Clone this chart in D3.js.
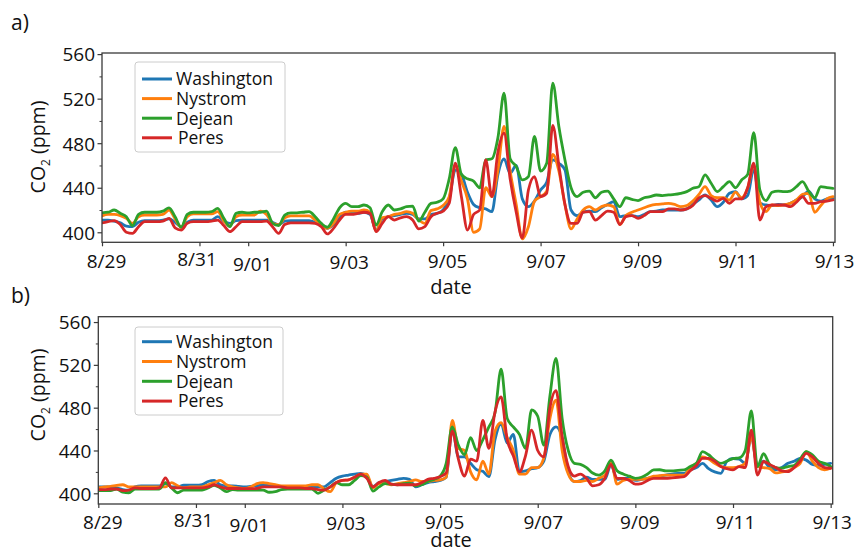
<!DOCTYPE html>
<html>
<head>
<meta charset="utf-8">
<script src="https://cdn.jsdelivr.net/npm/d3@7"></script>
<style>
  html, body { margin: 0; padding: 0; background: #fff; }
  svg { display: block; font-family: "Open Sans", "DejaVu Sans", sans-serif; }
</style>
</head>
<body>
<svg id="chart" width="858" height="557"></svg>
<script>
// ---------------- data ----------------
const seriesNames = ["Washington", "Nystrom", "Dejean", "Peres"];
const seriesColors = ["#1f77b4", "#ff7f0e", "#2ca02c", "#d62728"];
const startDate = "2019-08-29T00:00:00";
const stepHours = 3; // sampling interval of the values below
const tickLabels = ["8/29", "8/31", "9/01", "9/03", "9/05", "9/07", "9/09", "9/11", "9/13"];
const yTicksMajor = [400, 440, 480, 520, 560];
const yTicksMinor = [420, 460, 500, 540];

// panel a)
const washingtonA = [
  411, 411, 410, 408.5, 405.5, 405, 409, 410.5, 410.5, 410.5,
  411, 412, 409, 405, 409, 411, 411, 411, 411, 414,
  410, 408, 410.5, 411, 411, 411, 411, 411, 409, 407,
  410, 410.5, 410.5, 410.5, 410.5, 409, 406, 403.6, 407, 413,
  418, 417, 417, 418, 416, 402, 412, 414, 415, 416,
  417, 416, 412, 412, 416, 417, 420, 430, 456, 452,
  436, 425, 422, 421, 418.5, 452, 466, 453, 460, 430,
  423, 428, 438, 445, 465, 462, 456, 420, 415, 418,
  419, 418.5, 422, 425, 427.5, 414, 415, 415, 414, 416,
  418.5, 419, 420, 420, 420, 420, 421, 425, 429, 433.5,
  429, 423, 427, 435, 436.5, 430, 433, 457, 426, 424.5,
  424, 425, 424.5, 426, 429, 432, 437, 430, 428, 430, 430.5
];
const nystromA = [
  414.7, 416, 416, 415, 412.5, 408, 414, 415.5, 415.5, 415.5,
  416, 420, 412, 404.5, 414, 416.5, 416.5, 416.5, 416.5, 418.6,
  410, 405.7, 414, 415.5, 415.5, 415.5, 419, 416, 408, 406.6,
  413, 414.7, 414.7, 414.7, 414.7, 411, 406, 403.6, 408, 416,
  418, 419, 419, 420, 418, 401, 413, 414, 416, 417,
  418.5, 417, 411, 408, 419.5, 421, 424, 432, 460, 446,
  430, 400, 403, 440, 432, 456, 495, 455, 425, 394,
  405, 428, 432, 437, 470, 455, 425, 403, 412, 420,
  423, 420, 423, 424.5, 423, 407, 415, 418, 420, 422,
  424, 425, 425.5, 426, 425, 423, 424, 428, 434, 441,
  433, 431, 431, 429, 436, 431, 440, 460, 427, 418.5,
  424.5, 424, 424.5, 426, 429, 434, 435, 418, 424, 430, 432
];
const dejeanA = [
  417.5, 418, 420, 417, 414, 406, 416, 418, 418, 418,
  419, 422, 414, 404.5, 416, 418, 418, 418, 418.5, 421.5,
  412.5, 405, 417, 418, 417.5, 418, 418, 419, 408, 406,
  415.5, 417.5, 417.5, 418, 418.5, 414, 408, 404.5, 412, 422,
  426, 423, 423, 424.5, 422, 406.5, 418.5, 424.5, 420, 421,
  423, 423.5, 410, 418, 426, 427, 430, 448, 476, 452,
  448, 446, 440, 465, 466, 485, 525, 466, 459, 447,
  450, 486, 455, 462, 534, 495, 465, 440, 432, 436,
  437, 431, 436, 437, 430, 423, 431, 429.5, 428.5, 431,
  432, 433.5, 433, 433.5, 434, 435, 436.5, 439.5, 441, 451.5,
  444, 436.5, 441, 445.5, 440, 447, 452, 489.5, 438, 428.5,
  436, 437, 436.5, 437, 441, 445.5, 437, 431, 441, 440, 439.5
];
const peresA = [
  408.5, 409.5, 410.5, 407, 400, 399, 405, 409.5, 409.5, 409.5,
  410, 412.5, 404, 402, 408, 409.5, 409.5, 409.5, 410, 411,
  406, 400.5, 405, 409.5, 409.5, 409.5, 409.5, 410, 405, 399,
  407, 408.5, 408.5, 408.5, 408.5, 408, 405, 398.5, 403.5, 411,
  416, 416, 417, 418, 417, 400.5, 408, 414, 411, 413,
  414, 411, 403, 405, 414, 417, 419, 426, 462, 432,
  402, 416, 420, 465, 432, 472, 489, 448, 418, 395,
  438, 450, 432, 435, 496, 460, 425, 408, 408, 418,
  418.5, 411, 415, 419, 418, 407, 414, 415, 412.5, 415,
  418.5, 418.5, 418.5, 421, 421, 420, 421, 424, 431, 433,
  430.5, 428, 430.5, 426, 430, 430, 440, 462, 411, 423,
  424.5, 424.5, 424.5, 423, 427, 432, 426, 426, 427.5, 428, 429
];

// panel b)
const washingtonB = [
  406, 406, 406, 405, 403.5, 403, 406, 407, 407, 407,
  407, 409, 406, 406, 407.5, 407.5, 407.5, 408, 411, 412,
  408, 407, 407, 406.5, 406, 406.5, 407, 408, 408, 407,
  406.5, 406.5, 406.5, 406.5, 406.5, 406.5, 406, 406, 410, 414,
  416, 417, 418, 418.7, 416, 406.3, 410, 411, 412, 413,
  414, 413, 406, 408, 410, 411, 412, 415, 460, 434,
  434, 428, 422, 420.5, 415.6, 450, 465, 447, 455, 420,
  421, 423, 424, 430, 455, 462, 452, 420, 411, 412,
  415, 413, 413, 413, 426.5, 413, 414, 414, 412, 413,
  414, 415, 416, 417, 418, 418.5, 418.7, 422, 424, 428,
  423, 420, 418.7, 430, 432.5, 432, 428, 452.7, 425, 430,
  424, 422, 424, 428, 430, 432.5, 431, 427, 426, 427, 428
];
const nystromB = [
  405, 406, 406.5, 407.5, 408, 406, 406, 406, 406, 406,
  406, 406, 410, 407, 405, 406, 406, 406, 408, 410,
  412, 408, 406, 405, 404.5, 406, 409, 410, 409, 408,
  407, 407, 407, 407, 407, 408, 408, 404, 401.5, 410,
  412, 412.5, 415, 418, 418, 405, 409, 409, 408, 409,
  410, 411, 412.5, 411, 411, 412, 412.5, 415, 468, 442,
  440, 420, 412.5, 430, 418, 458, 466, 452, 440, 418,
  418, 424, 424, 433, 470, 487, 440, 418, 411, 411,
  412, 411, 414, 417, 429.7, 408.5, 412, 413, 413, 413,
  414, 416, 416.5, 417, 417, 417, 417, 424, 428, 434,
  432, 428, 425, 424, 424, 425, 428, 452.7, 425, 424,
  423, 419, 420, 421, 424, 428, 439, 430, 424, 422, 423.4
];
const dejeanB = [
  402.5, 402.5, 402.5, 404, 401, 400.5, 404, 404, 404, 404,
  404, 410, 405, 400.5, 403, 403, 403, 403, 405, 407.5,
  405, 401.5, 403.5, 403, 403, 403, 403, 403, 401, 401.5,
  403.5, 404, 404, 404, 404, 404, 400, 403, 406, 410,
  408, 408, 412, 416.5, 415, 402, 406, 409, 408.5, 408,
  409, 409.5, 407, 408, 411, 413, 416, 428, 462, 445,
  436, 452, 440, 450, 462, 475, 516, 470, 462, 455,
  442, 478, 472, 445, 491, 526, 470, 440, 428, 427,
  424, 419, 417, 421, 431, 421, 418, 416, 414, 415,
  418, 421.8, 422, 421, 421, 421.5, 421.8, 425, 428, 439,
  436, 431, 428, 430, 432.5, 433, 440, 477, 425, 437,
  427, 424, 423.5, 425, 426, 432, 439, 436, 430, 428, 425
];
const peresB = [
  403.5, 403.5, 404, 404, 402.5, 403, 405, 404.5, 404.5, 404.5,
  405, 414.5, 405, 405, 405, 405, 405, 405, 406, 408,
  406, 404.5, 404.5, 404.5, 404.3, 404.3, 404.5, 406, 406, 406,
  406, 405, 405, 405, 404.5, 404.5, 403.5, 403, 406, 410,
  412, 412.5, 415, 418, 414, 406, 410, 412, 408.5, 408,
  408, 408, 408, 410, 413, 414, 415.5, 419, 458, 432,
  416, 432, 430, 468, 442, 476, 490, 450, 435, 420,
  435, 459, 440, 434, 480, 496, 453, 425, 416, 418,
  414, 407, 408, 414, 427, 414, 414, 412, 408.5, 409,
  412, 414, 414, 414, 414.5, 415, 415.5, 421, 426, 432.7,
  432.7, 430, 425, 423, 421.8, 425, 424, 459, 417, 429.7,
  427, 424, 421, 420.3, 424, 430, 437.3, 434, 428, 424, 423.4
];

// ---------------- drawing ----------------
const svg = d3.select("#chart");
const parse = d3.timeParse("%Y-%m-%dT%H:%M:%S");
const t0 = parse(startDate);
const fmt = d3.timeFormat("%-m/%d");
const tickDates = tickLabels.map(s => {
  const [m, d] = s.split("/").map(Number);
  return new Date(t0.getFullYear(), m - 1, d);
});
const tEnd = d3.timeHour.offset(tickDates[tickDates.length - 1], 1);

// small per-label nudges matching the reference typesetting
const labelNudgeX = [4, -3, 4, 3, 4, 5, 4, 2, 1];
const labelNudgeY = [0, -2, 3, 1, 0, 0, 0, 0, 0];

const panels = [
  { tag: "a)", tagY: 30, left: 102, right: 835, top: 53, bottom: 242.3, yDomain: [391, 561],
    series: [washingtonA, nystromA, dejeanA, peresA],
    tickBase: 26, ylabY: 147, dateY: 294,
    legend: { x: 135, y: 62, w: 150, h: 90, row0: 79, rowStep: 19.6 } },
  { tag: "b)", tagY: 303, left: 98.3, right: 832.7, top: 316.7, bottom: 504, yDomain: [390, 565],
    series: [washingtonB, nystromB, dejeanB, peresB],
    tickBase: 24.5, ylabY: 395, dateY: 546.5,
    legend: { x: 135, y: 327, w: 148, h: 88, row0: 341.7, rowStep: 19.8 } }
];

panels.forEach(p => {
  const x = d3.scaleTime().domain([t0, tEnd]).range([p.left, p.right]);
  const y = d3.scaleLinear().domain(p.yDomain).range([p.bottom, p.top]);
  const g = svg.append("g");

  // lines
  const line = d3.line()
    .x((d, i) => x(d3.timeHour.offset(t0, i * stepHours)))
    .y(d => y(d))
    .curve(d3.curveMonotoneX);
  const clipId = "clip" + p.tag[0];
  svg.append("clipPath").attr("id", clipId)
    .append("rect").attr("x", p.left).attr("y", p.top)
    .attr("width", p.right - p.left).attr("height", p.bottom - p.top);
  g.append("g").attr("clip-path", `url(#${clipId})`)
    .selectAll("path").data(p.series).join("path")
    .attr("d", line)
    .attr("fill", "none")
    .attr("stroke", (d, i) => seriesColors[i])
    .attr("stroke-width", 2.8)
    .attr("stroke-linejoin", "round")
    .attr("stroke-linecap", "round");

  // frame
  g.append("rect")
    .attr("x", p.left).attr("y", p.top)
    .attr("width", p.right - p.left).attr("height", p.bottom - p.top)
    .attr("fill", "none").attr("stroke", "#3a3a3a").attr("stroke-width", 1.3);

  // x axis
  const xa = g.append("g").attr("transform", `translate(0,${p.bottom})`)
    .call(d3.axisBottom(x).tickValues(tickDates).tickFormat(fmt).tickSize(4).tickSizeOuter(0));
  xa.select(".domain").remove();
  xa.selectAll(".tick line").attr("stroke", "#3a3a3a").attr("stroke-width", 1.2);
  xa.selectAll(".tick text")
    .attr("y", (d, i) => p.tickBase + labelNudgeY[i]).attr("dy", 0)
    .attr("dx", (d, i) => labelNudgeX[i])
    .attr("font-size", 19).attr("font-family", "'Open Sans', sans-serif").attr("fill", "#111");

  // y axis major
  const ya = g.append("g").attr("transform", `translate(${p.left},0)`)
    .call(d3.axisLeft(y).tickValues(yTicksMajor).tickFormat(d3.format("d")).tickSize(4.5).tickSizeOuter(0));
  ya.select(".domain").remove();
  ya.selectAll(".tick line").attr("stroke", "#3a3a3a").attr("stroke-width", 1.2);
  ya.selectAll(".tick text")
    .attr("x", -7).attr("dy", "0.36em")
    .attr("font-size", 19).attr("font-family", "'Open Sans', sans-serif").attr("fill", "#111");
  // y axis minor
  const ym = g.append("g").attr("transform", `translate(${p.left},0)`)
    .call(d3.axisLeft(y).tickValues(yTicksMinor).tickFormat("").tickSize(2.5).tickSizeOuter(0));
  ym.select(".domain").remove();
  ym.selectAll(".tick line").attr("stroke", "#3a3a3a").attr("stroke-width", 1);

  // axis titles
  const yl = g.append("text")
    .attr("transform", `translate(45,${p.ylabY}) rotate(-90)`)
    .attr("text-anchor", "middle")
    .attr("font-size", 19.5).attr("fill", "#111");
  yl.append("tspan").text("CO");
  yl.append("tspan").attr("font-size", 12).attr("dy", 5).text("2");
  yl.append("tspan").attr("dy", -5).text(" (ppm)");

  g.append("text").attr("x", 451).attr("y", p.dateY)
    .attr("text-anchor", "middle").attr("font-size", 20).attr("fill", "#111")
    .text("date");

  // panel tag
  g.append("text").attr("x", 11).attr("y", p.tagY)
    .attr("font-size", 21).attr("fill", "#111").text(p.tag);

  // legend
  const L = p.legend;
  g.append("rect").attr("x", L.x).attr("y", L.y).attr("width", L.w).attr("height", L.h)
    .attr("rx", 3).attr("fill", "#fff").attr("fill-opacity", 0.85)
    .attr("stroke", "#cccccc").attr("stroke-width", 1);
  const items = g.selectAll(".leg").data(seriesNames).join("g")
    .attr("transform", (d, i) => `translate(${L.x},${L.row0 + i * L.rowStep})`);
  items.append("line").attr("x1", 7).attr("x2", 37).attr("y1", 0).attr("y2", 0)
    .attr("stroke", (d, i) => seriesColors[i]).attr("stroke-width", 3);
  items.append("text").attr("x", (d, i) => i === 3 ? 43 : 41).attr("dy", "0.36em")
    .attr("font-size", 17.5).attr("fill", "#111").text(d => d);
});
</script>
</body>
</html>
